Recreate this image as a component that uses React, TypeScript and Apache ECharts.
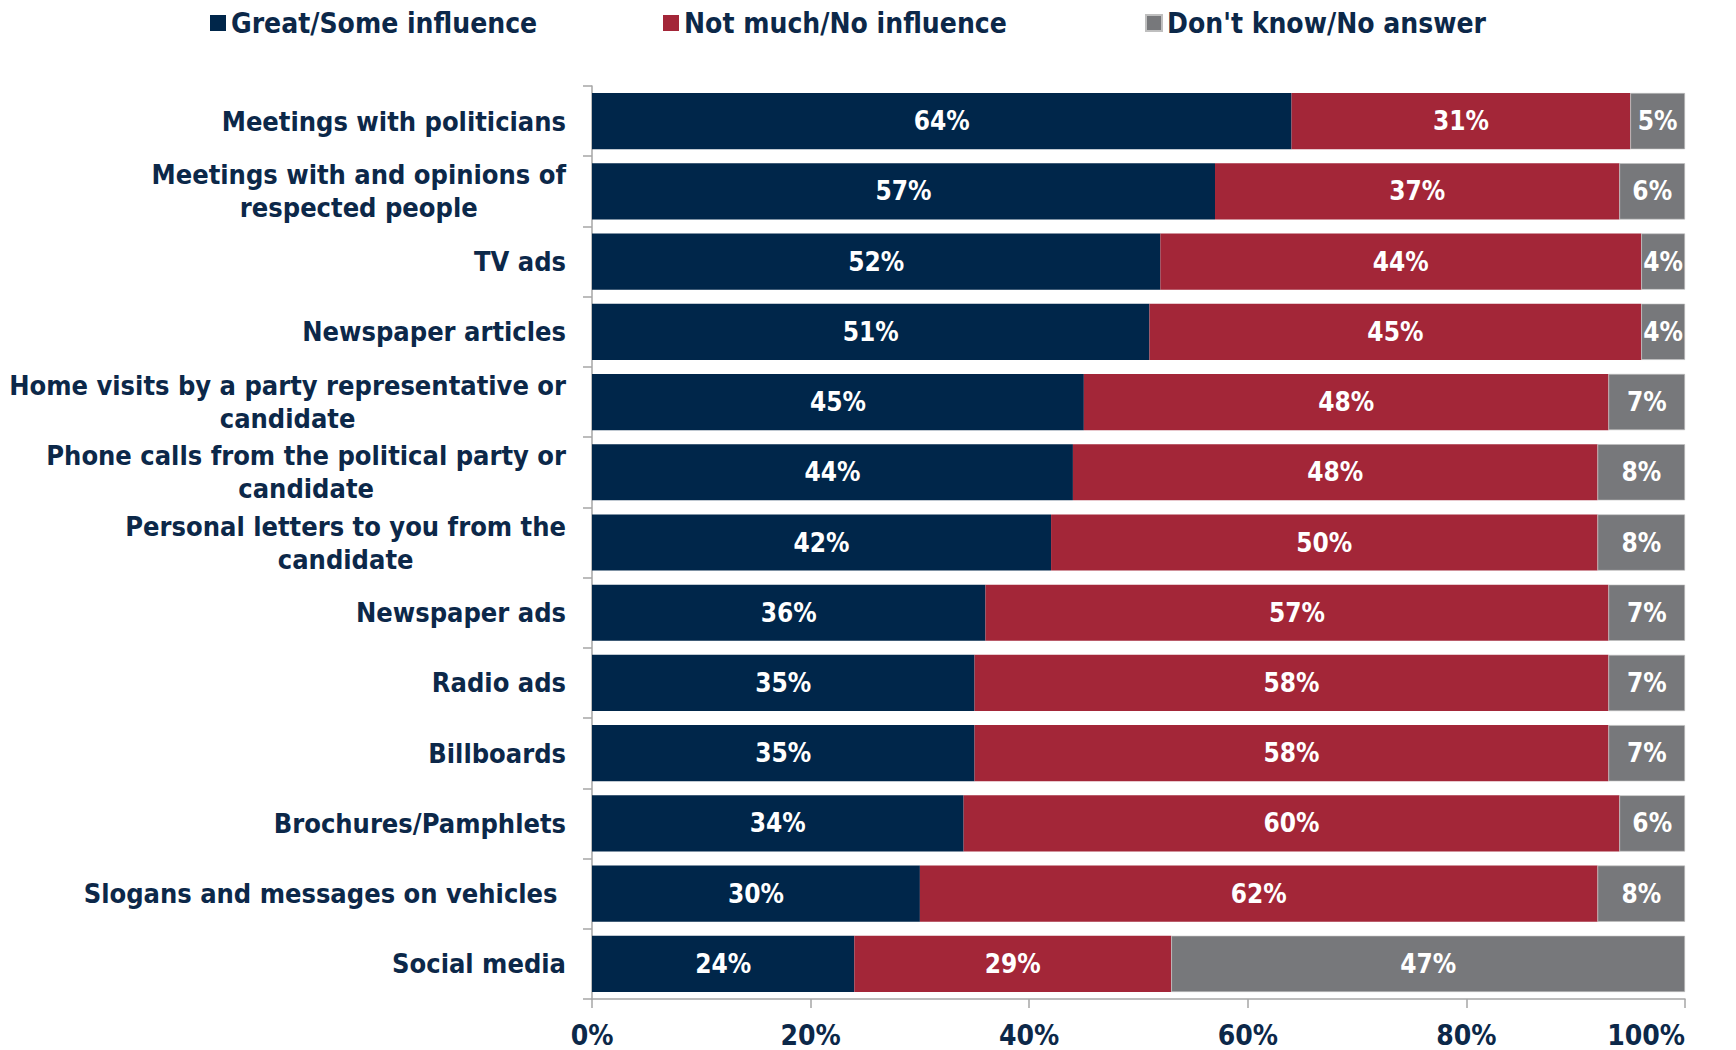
import React, { useEffect, useRef } from "react";
import * as echarts from "echarts";

const categories = [
  "Meetings with politicians",
  "Meetings with and opinions of\nrespected people",
  "TV ads",
  "Newspaper articles",
  "Home visits by a party representative or\ncandidate",
  "Phone calls from the political party or\ncandidate",
  "Personal letters to you from the\ncandidate",
  "Newspaper ads",
  "Radio ads",
  "Billboards",
  "Brochures/Pamphlets",
  "Slogans and messages on vehicles ",
  "Social media",
];

const greatSome = [64, 57, 52, 51, 45, 44, 42, 36, 35, 35, 34, 30, 24];
const notMuch = [31, 37, 44, 45, 48, 48, 50, 57, 58, 58, 60, 62, 29];
const dontKnow = [5, 6, 4, 4, 7, 8, 8, 7, 7, 7, 6, 8, 47];

const seriesNames = ["Great/Some influence", "Not much/No influence", "Don't know/No answer"];
const colors = ["#00264A", "#A32638", "#77787B"];
const xTicks = [0, 20, 40, 60, 80, 100];

const FONT = "'Liberation Sans Narrow', 'DejaVu Sans Condensed', 'Open Sans', sans-serif";
const NAVY = "#0C2849";

export default function App() {
  const ref = useRef<HTMLDivElement>(null);
  useEffect(() => {
    if (!ref.current) return;
    const chart = echarts.init(ref.current, null, { renderer: "svg" });
    const values = [greatSome, notMuch, dontKnow];
    const legendLefts = [205, 658, 1140];
    chart.setOption({
      animation: false,
      backgroundColor: "#ffffff",
      legend: seriesNames.map((n, i) => ({
        data: [n],
        left: legendLefts[i],
        top: 4,
        icon: "rect",
        itemWidth: 16,
        itemHeight: 16,
        itemGap: 0,
        textStyle: {
          fontFamily: FONT,
          fontWeight: "bold",
          fontSize: 28,
          color: NAVY,
        },
      })),
      grid: { left: 592, right: 51, top: 86, bottom: 51, containLabel: false, outerBoundsMode: "none" },
      xAxis: {
        type: "value",
        min: xTicks[0],
        max: xTicks[xTicks.length - 1],
        interval: 20,
        splitLine: { show: false },
        axisLine: { show: true, lineStyle: { color: "#A6A6A6", width: 1.5 } },
        axisTick: { show: true, length: 9, lineStyle: { color: "#A6A6A6", width: 1.5 } },
        axisLabel: {
          formatter: "{value}%",
          fontFamily: FONT,
          fontWeight: "bold",
          fontSize: 28,
          color: NAVY,
          margin: 22,
          alignMaxLabel: "right",
        },
      },
      yAxis: {
        type: "category",
        inverse: true,
        data: categories,
        axisLine: { show: true, lineStyle: { color: "#A6A6A6", width: 1.5 } },
        axisTick: { show: true, length: 9, lineStyle: { color: "#A6A6A6", width: 1.5 } },
        axisLabel: {
          margin: 26,
          formatter: (v: string) =>
            v
              .split("\n")
              .map((l) => `{c|${l}}`)
              .join("\n"),
          rich: {
            c: {
              fontFamily: FONT,
              fontWeight: "bold",
              fontSize: 27,
              lineHeight: 33,
              color: NAVY,
              align: "center",
            },
          },
        },
      },
      series: seriesNames.map((n, i) => ({
        name: n,
        type: "bar",
        stack: "total",
        data: values[i],
        barCategoryGap: "20%",
        itemStyle: { color: colors[i], borderColor: i === 2 ? "#BFBFBF" : colors[i], borderWidth: i === 2 ? 0.6 : 0 },
        label: {
          show: true,
          position: "inside",
          formatter: "{c}%",
          color: "#ffffff",
          fontFamily: FONT,
          fontWeight: "bold",
          fontSize: 26,
        },
      })),
    });
    return () => chart.dispose();
  }, []);
  return (
    <div
      ref={ref}
      style={{ position: "fixed", left: 0, top: 0, width: 1736, height: 1050 }}
    />
  );
}
